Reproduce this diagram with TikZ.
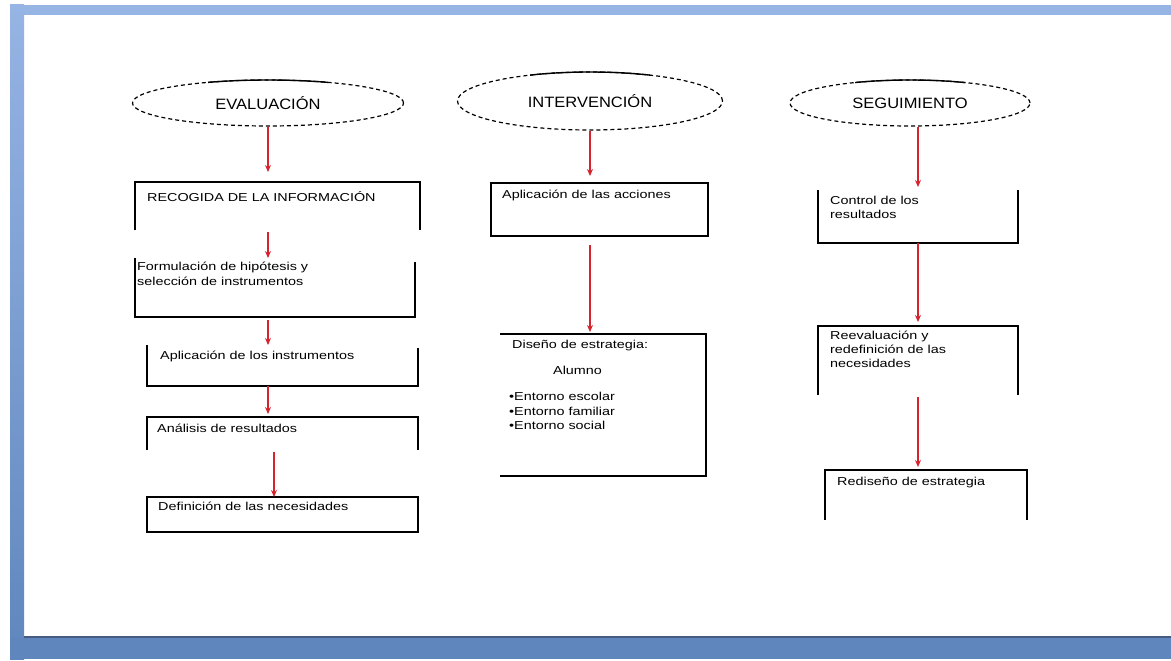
\documentclass[tikz,border=0pt]{standalone}
\usepackage{fontspec}
\newfontfamily\cuerpo{Liberation Sans}[FakeStretch=1.25]
\newfontfamily\titulo{Liberation Sans}[FakeStretch=1.1]
\usetikzlibrary{shapes.geometric,arrows.meta}
\definecolor{rojo}{RGB}{215,35,45}
\definecolor{marcoclaro}{RGB}{150,180,228}
\definecolor{marcooscuro}{RGB}{95,135,190}
\definecolor{sombra}{RGB}{70,90,130}
\tikzset{
  fase/.style={ellipse, draw, dashed, dash pattern=on 4pt off 3pt, line width=1.2pt,
    inner sep=0pt, font=\titulo\fontsize{15}{17}\selectfont},
  caja/.style={rectangle, inner sep=0pt, outer sep=0pt},
  borde/.style={line width=1.5pt, black},
  texto/.style={anchor=north west, inner sep=0pt, align=left,
    font=\cuerpo\fontsize{11.5}{15}\selectfont},
  flecha/.style={rojo, line width=1.2pt, -{Stealth[length=7pt,width=6pt]}}
}
\begin{document}
\begin{tikzpicture}[x=1pt,y=-1pt]
    \useasboundingbox (0,0) rectangle (1171,661);
    % marco de la diapositiva
    \fill[white] (0,0) rectangle (1171,661);
    \fill[marcoclaro] (10,5) rectangle (1171,15);
    \shade[top color=marcoclaro, bottom color=marcooscuro] (10,5) rectangle (24,659);
    \fill[marcooscuro] (10,637) rectangle (1171,659);
    \draw[sombra, line width=1.5pt] (24,637) -- (1171,637);

    % fases
    \node[fase, minimum width=271pt, minimum height=46pt] (eval) at (268,103) {EVALUACIÓN};
    \node[fase, minimum width=265pt, minimum height=58pt] (interv) at (590,101) {INTERVENCIÓN};
    \node[fase, minimum width=240pt, minimum height=46pt] (segui) at (910,103) {SEGUIMIENTO};
    \begin{scope}
        \clip (208,60) rectangle (328,90);
        \draw[line width=1.4pt] (eval.center) ellipse [x radius=135.5pt, y radius=23pt];
    \end{scope}
    \begin{scope}
        \clip (530,60) rectangle (650,80);
        \draw[line width=1.4pt] (interv.center) ellipse [x radius=132.5pt, y radius=29pt];
    \end{scope}
    \begin{scope}
        \clip (855,60) rectangle (965,90);
        \draw[line width=1.4pt] (segui.center) ellipse [x radius=120pt, y radius=23pt];
    \end{scope}

    % evaluacion
    \node[caja, minimum width=285pt, minimum height=48pt] (recog) at (277.5,206) {};
    \node[caja, minimum width=280pt, minimum height=59pt] (formul) at (275,287.5) {};
    \node[caja, minimum width=271pt, minimum height=41pt] (aplins) at (282.5,365.5) {};
    \node[caja, minimum width=271pt, minimum height=33pt] (analis) at (282.5,433.5) {};
    \node[caja, minimum width=271pt, minimum height=35pt] (defin) at (282.5,514.5) {};
    \draw[borde] (recog.south west) -- (recog.north west) -- (recog.north east) -- (recog.south east);
    \draw[borde] (formul.north west) -- (formul.south west) -- (formul.south east) -- ([yshift=-4pt]formul.north east);
    \draw[borde] (aplins.north west) -- (aplins.south west) -- (aplins.south east) -- ([yshift=-3pt]aplins.north east);
    \draw[borde] (analis.south west) -- (analis.north west) -- (analis.north east) -- (analis.south east);
    \draw[borde] (defin.north west) rectangle (defin.south east);
    \node[texto] (trecog) at ([shift={(12,9)}]recog.north west) {RECOGIDA DE LA INFORMACIÓN};
    \node[texto] (tformul) at ([shift={(2,4)}]formul.north west) {Formulación de hipótesis y\\selección de instrumentos};
    \node[texto] (taplins) at ([shift={(13,6)}]aplins.north west) {Aplicación de los instrumentos};
    \node[texto] (tanalis) at ([shift={(10,7)}]analis.north west) {Análisis de resultados};
    \node[texto] (tdefin) at ([shift={(11,5)}]defin.north west) {Definición de las necesidades};
    \draw[flecha, shorten >=10pt] (eval.south) -- (eval.south |- recog.north);
    \draw[flecha, shorten <=2pt] (recog.south -| eval.south) -- (formul.north -| eval.south);
    \draw[flecha, shorten <=3pt] (formul.south -| eval.south) -- (aplins.north -| eval.south);
    \draw[flecha, shorten >=3pt] (aplins.south -| eval.south) -- (analis.north -| eval.south);
    \draw[flecha, shorten <=2pt] ([xshift=6pt]analis.south -| eval.south) -- ([xshift=6pt]defin.north -| eval.south);

    % intervencion
    \node[caja, minimum width=217pt, minimum height=53pt] (aplacc) at (599.5,209.5) {};
    \node[caja, minimum width=206pt, minimum height=142pt] (disen) at (603,405) {};
    \draw[borde] (aplacc.north west) rectangle (aplacc.south east);
    \draw[borde] (disen.north west) -- (disen.north east) -- (disen.south east) -- (disen.south west);
    \node[texto] (taplacc) at ([shift={(11,7)}]aplacc.north west) {Aplicación de las acciones};
    \node[texto] (tdisen) at ([shift={(12,6)}]disen.north west) {Diseño de estrategia:};
    \node[texto] (talumno) at ([shift={(53,32)}]disen.north west) {Alumno};
    \node[texto, font=\cuerpo\fontsize{11.5}{14.5}\selectfont] (tentorno) at ([shift={(9,58)}]disen.north west)
        {•Entorno escolar\\•Entorno familiar\\•Entorno social};
    \draw[flecha, shorten >=7pt] (interv.south) -- (interv.south |- aplacc.north);
    \draw[flecha, shorten <=9pt, shorten >=2pt] (aplacc.south -| interv.south) -- (disen.north -| interv.south);

    % seguimiento
    \node[caja, minimum width=200pt, minimum height=53pt] (control) at (918,216.5) {};
    \node[caja, minimum width=200pt, minimum height=69pt] (reeval) at (918,360.5) {};
    \node[caja, minimum width=202pt, minimum height=50pt] (redis) at (926,495) {};
    \draw[borde] (control.north west) -- (control.south west) -- (control.south east) -- (control.north east);
    \draw[borde] (reeval.south west) -- (reeval.north west) -- (reeval.north east) -- (reeval.south east);
    \draw[borde] (redis.south west) -- (redis.north west) -- (redis.north east) -- (redis.south east);
    \node[texto, font=\cuerpo\fontsize{11.5}{14}\selectfont] (tcontrol) at ([shift={(12,6)}]control.north west) {Control de los\\resultados};
    \node[texto, font=\cuerpo\fontsize{11.5}{14}\selectfont] (treeval) at ([shift={(12,5)}]reeval.north west) {Reevaluación y\\redefinición de las\\necesidades};
    \node[texto] (tredis) at ([shift={(12,7)}]redis.north west) {Rediseño de estrategia};
    \draw[flecha, shorten >=3pt] (segui.south -| control) -- (control.north);
    \draw[flecha, shorten >=4pt] (control.south) -- (reeval.north);
    \draw[flecha, shorten >=3pt, shorten <=2pt] (reeval.south) -- (reeval.south |- redis.north);
\end{tikzpicture}
\end{document}
